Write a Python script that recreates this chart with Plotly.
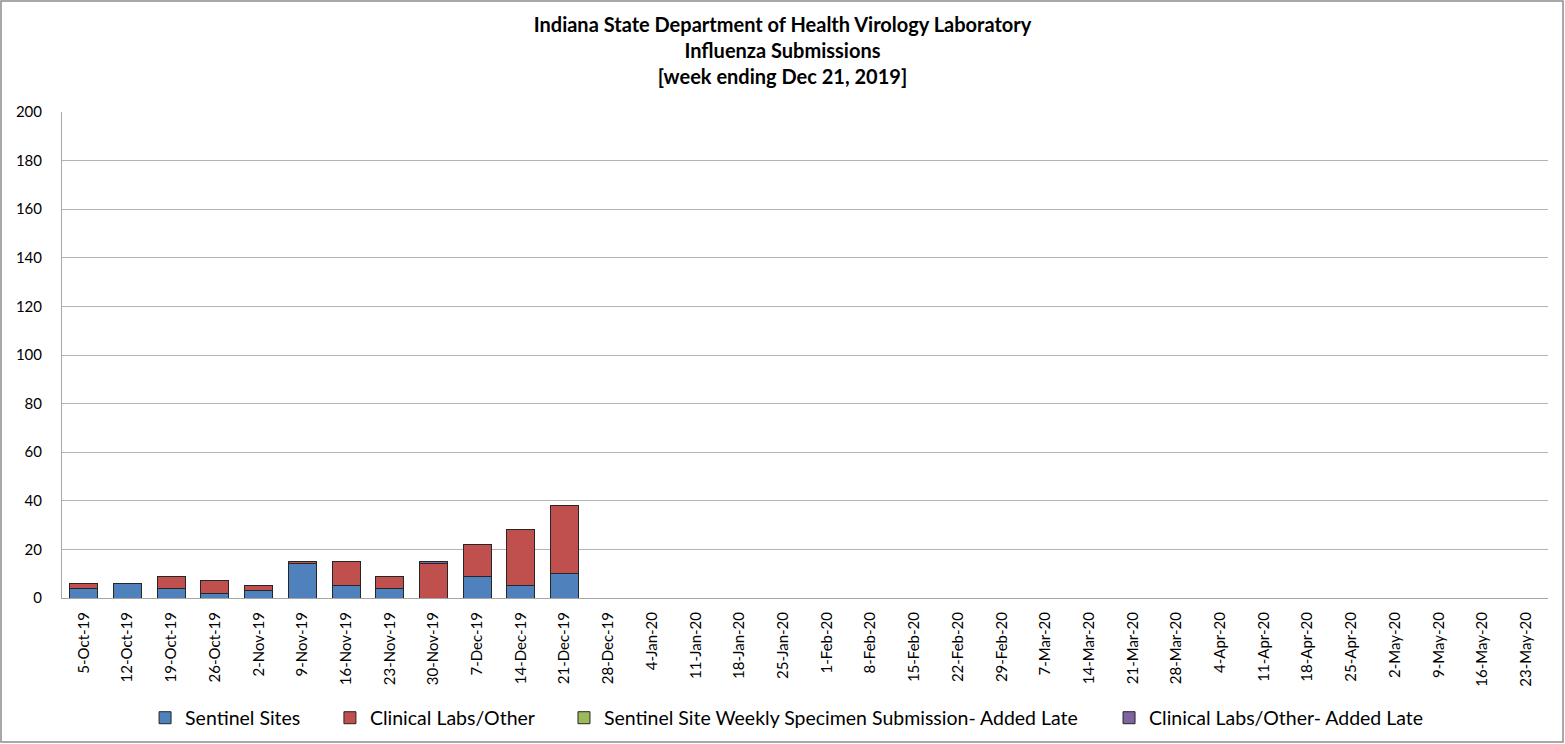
import plotly.graph_objects as go

weeks = ["5-Oct-19", "12-Oct-19", "19-Oct-19", "26-Oct-19", "2-Nov-19", "9-Nov-19",
         "16-Nov-19", "23-Nov-19", "30-Nov-19", "7-Dec-19", "14-Dec-19", "21-Dec-19",
         "28-Dec-19", "4-Jan-20", "11-Jan-20", "18-Jan-20", "25-Jan-20", "1-Feb-20",
         "8-Feb-20", "15-Feb-20", "22-Feb-20", "29-Feb-20", "7-Mar-20", "14-Mar-20",
         "21-Mar-20", "28-Mar-20", "4-Apr-20", "11-Apr-20", "18-Apr-20", "25-Apr-20",
         "2-May-20", "9-May-20", "16-May-20", "23-May-20"]

sentinel = [4, 6, 4, 2, 3, 14, 5, 4, None, 9, 5, 10]
clinical = [2, None, 5, 5, 2, 1, 10, 5, 14, 13, 23, 28]
sentinel_late = [None, None, None, None, None, None, None, None, None, None, None, None]
clinical_late = [None, None, None, None, None, None, None, None, 1, None, None, None]

y_ticks = [0, 20, 40, 60, 80, 100, 120, 140, 160, 180, 200]

series_names = ["Sentinel Sites", "Clinical Labs/Other",
                "Sentinel Site Weekly Specimen Submission- Added Late",
                "Clinical Labs/Other- Added Late"]
series_values = [sentinel, clinical, sentinel_late, clinical_late]
series_colors = ["#4f81bd", "#c0504d", "#9bbb59", "#8064a2"]
legend_ids = ["legend", "legend2", "legend3", "legend4"]
legend_x = [0.0559, 0.1803, 0.3378, 0.7046]

font_family = "Lato"

fig = go.Figure()
for name, vals, color, lid in zip(series_names, series_values, series_colors, legend_ids):
    fig.add_trace(go.Bar(
        x=weeks[:len(vals)], y=vals, name=name, legend=lid, showlegend=True,
        marker=dict(color=color, line=dict(color="#262626", width=1)),
    ))

legend_layout = {}
for lid, lx in zip(legend_ids, legend_x):
    legend_layout[lid] = dict(
        orientation="h", x=lx, xanchor="left", y=-0.247, yanchor="middle",
        font=dict(size=19.5, family=font_family), itemwidth=30,
        bgcolor="rgba(0,0,0,0)", visible=True,
    )

fig.update_layout(
    showlegend=True,
    barmode="stack",
    bargap=0.36,
    width=1565, height=744,
    paper_bgcolor="white", plot_bgcolor="white",
    margin=dict(l=62, r=17, t=112, b=146, autoexpand=False),
    font=dict(family=font_family, color="black"),
    title=dict(
        text="<b>Indiana State Department of Health Virology Laboratory<br>Influenza Submissions<br>[week ending Dec 21, 2019]</b>",
        x=0.5, xanchor="center", y=0.957, yanchor="top",
        font=dict(size=20, family=font_family),
    ),
    xaxis=dict(
        type="category", categoryorder="array", categoryarray=weeks,
        range=[-0.5, len(weeks) - 0.5], automargin=False,
        tickangle=-90, tickfont=dict(size=15),
        showline=True, linecolor="#a6a6a6", linewidth=1,
        ticks="", ticklabelstandoff=7,
        showgrid=False,
    ),
    yaxis=dict(
        range=[0, 200], tickvals=y_ticks, tickfont=dict(size=15), automargin=False,
        showline=True, linecolor="#a6a6a6", linewidth=1,
        showgrid=True, gridcolor="#b3b3b3", gridwidth=1,
        ticks="", zeroline=False, ticklabelstandoff=16,
    ),
    shapes=[dict(type="rect", xref="paper", yref="paper",
                 x0=-61/1486, x1=1+15/1486, y0=-144/486, y1=1+111/486,
                 line=dict(color="#8c8c8c", width=1.5), fillcolor="rgba(0,0,0,0)",
                 layer="below")],
    **legend_layout,
)

fig.write_html("out.html", config={"displayModeBar": False},
               post_script="document.body.style.margin='0';")
